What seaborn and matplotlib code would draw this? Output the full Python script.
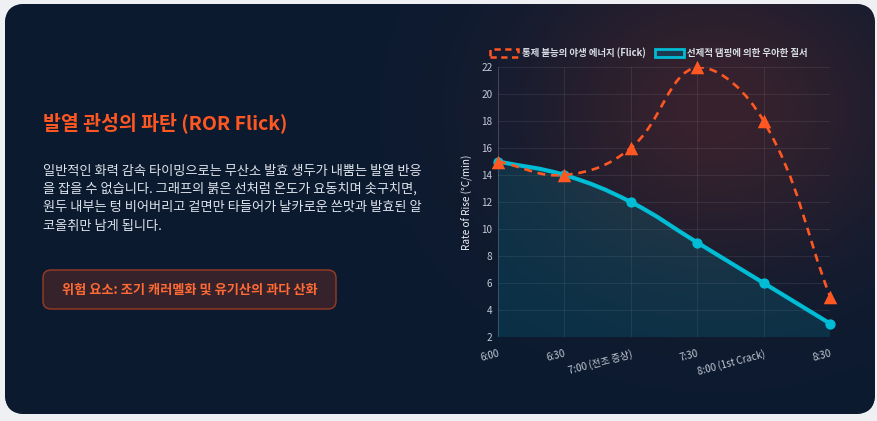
import numpy as np
import matplotlib
matplotlib.use("Agg")
import matplotlib.pyplot as plt
import seaborn as sns
from matplotlib.patches import FancyBboxPatch, PathPatch, Rectangle
from matplotlib.path import Path

# 데이터
time_labels = ["6:00", "6:30", "7:00 (전조 증상)", "7:30", "8:00 (1st Crack)", "8:30"]
flick_ror = [15, 14, 16, 22, 18, 5]
smooth_ror = [15, 14, 12, 9, 6, 3]
flick_name = "통제 불능의 야생 에너지 (Flick)"
smooth_name = "선제적 댐핑에 의한 우아한 질서"
y_ticks = list(range(2, 23, 2))

title_text = "발열 관성의 파탄 (ROR Flick)"
body_lines = [
    "일반적인 화력 감속 타이밍으로는 무산소 발효 생두가 내뿜는 발열 반응",
    "을 잡을 수 없습니다. 그래프의 붉은 선처럼 온도가 요동치며 솟구치면,",
    "원두 내부는 텅 비어버리고 겉면만 타들어가 날카로운 쓴맛과 발효된 알",
    "코올취만 남게 됩니다.",
]
warn_text = "위험 요소: 조기 캐러멜화 및 유기산의 과다 산화"

ORANGE = "#ff5722"
CYAN = "#00bcd4"
CARD = "#0b1a30"

sns.set_theme(style="dark")
plt.rcParams["font.family"] = ["Noto Sans CJK KR", "DejaVu Sans"]
plt.rcParams["axes.unicode_minus"] = False

W, H = 878, 421
fig = plt.figure(figsize=(W / 100, H / 100), dpi=100, facecolor="#eef0f3")

# 배경 카드 (픽셀 좌표)
bg = fig.add_axes([0, 0, 1, 1])
bg.set_xlim(0, W)
bg.set_ylim(H, 0)
bg.axis("off")
bg.set_facecolor("none")

card = FancyBboxPatch((5, 4), 870, 410, boxstyle="round,pad=0,rounding_size=20",
                      facecolor=CARD, edgecolor="none", zorder=0)
bg.add_patch(card)

# 붉은 광채 (radial gradient)
yy, xx = np.mgrid[0:H, 0:W]
r2 = ((xx - 715) / 190.0) ** 2 + ((yy - 110) / 160.0) ** 2
glow = np.exp(-r2 * 1.0)
base = np.array([11, 26, 48]) / 255.0
hot = np.array([56, 34, 45]) / 255.0
img = base + (hot - base) * glow[..., None]
im = bg.imshow(img, extent=(0, W, H, 0), zorder=1, interpolation="bilinear")
im.set_clip_path(card)

# 왼쪽 텍스트
bg.text(43, 123, title_text, color=ORANGE, fontsize=14, fontweight="bold",
        va="center", ha="left", zorder=3)
for i, line in enumerate(body_lines):
    bg.text(43, 171 + i * 18.4, line, color="#dfe4ec", fontsize=9.5,
            fontweight="medium", va="center", ha="left", zorder=3)

btn = FancyBboxPatch((43, 270), 293, 39, boxstyle="round,pad=0,rounding_size=8",
                     facecolor="#35222a", edgecolor="#9c3b25", linewidth=1.0, zorder=2)
bg.add_patch(btn)
bg.text(189.5, 290, warn_text, color="#ff6a35", fontsize=9.5, fontweight="bold",
        va="center", ha="center", zorder=3)

# 차트
ax = fig.add_axes([498 / W, 1 - 337 / H, 332 / W, 270 / H])
ax.set_facecolor("none")
x = np.arange(len(time_labels))
ax.set_xlim(0, len(time_labels) - 1)
ax.set_ylim(y_ticks[0], y_ticks[-1])
ax.set_yticks(y_ticks)
ax.set_xticks(x)
ax.set_xticklabels(time_labels, rotation=15, ha="right", rotation_mode="anchor")
ax.grid(True, color="#ffffff", alpha=0.08, linewidth=0.8)
for s in ax.spines.values():
    s.set_visible(False)
ax.axvline(0, color="#ffffff", alpha=0.12, linewidth=0.8)
ax.tick_params(axis="x", colors="#c3cad6", labelsize=7, length=6, color="#2a3548", pad=2)
ax.tick_params(axis="y", colors="#c3cad6", labelsize=7.2, length=0, pad=4)
for t in ax.get_xticklabels() + ax.get_yticklabels():
    t.set_fontweight("medium")
ax.set_ylabel("Rate of Rise (°C/min)", color="#eef1f5", fontsize=7.2, fontweight="medium", labelpad=6)


def spline_path(xs, ys, tension=0.4):
    # Chart.js 식 베지어 곡선 (픽셀 공간에서 제어점 계산)
    fig.canvas.draw()
    pts = ax.transData.transform(np.column_stack([xs, ys]))
    top = ax.transData.transform((0, y_ticks[-1]))[1]
    bot = ax.transData.transform((0, y_ticks[0]))[1]
    n = len(pts)
    cps_prev, cps_next = [], []
    for i in range(n):
        prev = pts[max(i - 1, 0)]
        cur = pts[i]
        nxt = pts[min(i + 1, n - 1)]
        d01 = np.hypot(*(cur - prev))
        d12 = np.hypot(*(nxt - cur))
        tot = d01 + d12
        s01 = d01 / tot if tot else 0
        s12 = d12 / tot if tot else 0
        cp1 = cur - tension * s01 * (nxt - prev)
        cp2 = cur + tension * s12 * (nxt - prev)
        cp1[1] = np.clip(cp1[1], bot, top)
        cp2[1] = np.clip(cp2[1], bot, top)
        cps_prev.append(cp1)
        cps_next.append(cp2)
    verts = [pts[0]]
    codes = [Path.MOVETO]
    for i in range(1, n):
        verts += [cps_next[i - 1], cps_prev[i], pts[i]]
        codes += [Path.CURVE4] * 3
    inv = ax.transData.inverted()
    return inv.transform(np.array(verts)), codes


# 우아한 질서 (채움)
sv, sc = spline_path(x, smooth_ror)
fill_verts = np.vstack([sv, [[x[-1], y_ticks[0]], [x[0], y_ticks[0]], sv[0]]])
fill_codes = sc + [Path.LINETO, Path.LINETO, Path.CLOSEPOLY]
ax.add_patch(PathPatch(Path(fill_verts, fill_codes), facecolor=CYAN, alpha=0.14,
                       edgecolor="none", zorder=2))
ax.add_patch(PathPatch(Path(sv, sc), facecolor="none", edgecolor=CYAN, linewidth=3,
                       capstyle="round", joinstyle="round", zorder=3))
sns.scatterplot(x=x, y=smooth_ror, ax=ax, color=CYAN, s=55, marker="o",
                edgecolor=CYAN, linewidth=0, zorder=4, clip_on=False)

# 야생 에너지 (점선)
fv, fc = spline_path(x, flick_ror)
ax.add_patch(PathPatch(Path(fv, fc), facecolor="none", edgecolor=ORANGE, linewidth=1.9,
                       linestyle=(0, (3, 2.2)), zorder=5))
sns.scatterplot(x=x, y=flick_ror, ax=ax, color=ORANGE, s=95, marker="^",
                edgecolor=ORANGE, linewidth=0, zorder=6, clip_on=False)

# 범례
h1 = Rectangle((0, 0), 1, 1, facecolor="none", edgecolor=ORANGE, linewidth=1.8,
               linestyle=(0, (2.5, 1.8)))
h2 = Rectangle((0, 0), 1, 1, facecolor="#1c3a4f", edgecolor=CYAN, linewidth=2)
leg = ax.legend([h1, h2], [flick_name, smooth_name], loc="lower center",
                bbox_to_anchor=(0.455, 1.0), ncol=2, frameon=False, fontsize=6.8,
                handlelength=3.0, handleheight=0.9, columnspacing=1.0, handletextpad=0.4,
                borderaxespad=0.5)
for t in leg.get_texts():
    t.set_color("#d8dde6")
    t.set_fontweight("bold")

fig.savefig("out.png", dpi=100, facecolor=fig.get_facecolor())
